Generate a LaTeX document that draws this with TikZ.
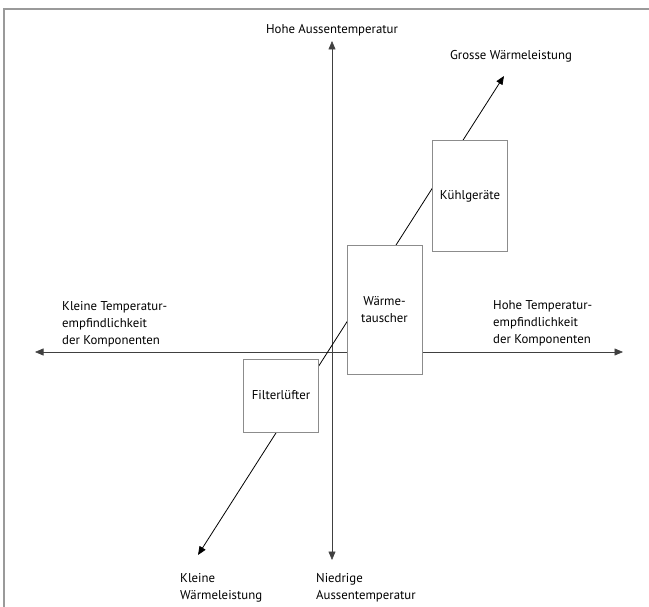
\documentclass[tikz,border=0pt]{standalone}
\usepackage{fontspec}
\setmainfont{PT Sans}
\usepackage{xcolor}
\usepackage{tikz}
\usetikzlibrary{arrows.meta, positioning}

\definecolor{framegray}{HTML}{9A9A9A}
\definecolor{boxgray}{HTML}{8C8C8C}

\begin{document}
\begin{tikzpicture}[
  x=1pt, y=-1pt,
  font=\fontsize{12.8}{17}\selectfont,
  box/.style   = {draw=boxgray, line width=1pt, fill=white, rectangle,
                  minimum width=75pt, inner sep=0pt, align=center},
  lbl/.style   = {inner sep=0pt, align=left},
  axis/.style  = {{Triangle[length=8.5pt,width=7pt]}-{Triangle[length=8.5pt,width=7pt]},
                  line width=0.6pt, draw=black!75},
  diag/.style  = {{Triangle[length=8.5pt,width=7pt]}-{Triangle[length=8.5pt,width=7pt]},
                  line width=0.8pt},
]
\useasboundingbox (0,0) rectangle (649,607);

% frame
\draw[framegray, line width=1.2pt] (4,607) -- (4,9) -- (649,9);

% axis ends
\coordinate (left)   at (35,352);
\coordinate (right)  at (623,352);
\coordinate (top)    at (332,41);
\coordinate (bottom) at (332,560);
\coordinate (small)  at (198,555);
\coordinate (large)  at (504,76);

\draw[axis] (left) -- (right);
\draw[axis] (bottom) -- (top);
\draw[diag] (small) -- (large);

% devices
\node[box, minimum height=73pt]  (filter) at (281,395.5) {Filterlüfter};
\node[box, minimum height=128pt] (hex)    at (384.5,310)  {Wärme-\\tauscher};
\node[box, minimum height=111pt] (cool)   at (470,196.5)  {Kühlgeräte};

% axis labels
\node[lbl, above=5pt of top]   (hot)   {Hohe Aussentemperatur};
\node[lbl, above=14pt of large, xshift=7pt] (big) {Grosse Wärmeleistung};
\node[lbl, anchor=west] (weak) at (180,588) {Kleine\\Wärmeleistung};
\node[lbl, anchor=west] (cold) at (316,588) {Niedrige\\Aussentemperatur};
\node[lbl, anchor=west] (lowsens)  at (62,324)  {Kleine Temperatur-\\empfindlichkeit\\der Komponenten};
\node[lbl, anchor=west] (highsens) at (493,323) {Hohe Temperatur-\\empfindlichkeit\\der Komponenten};

\end{tikzpicture}
\end{document}
